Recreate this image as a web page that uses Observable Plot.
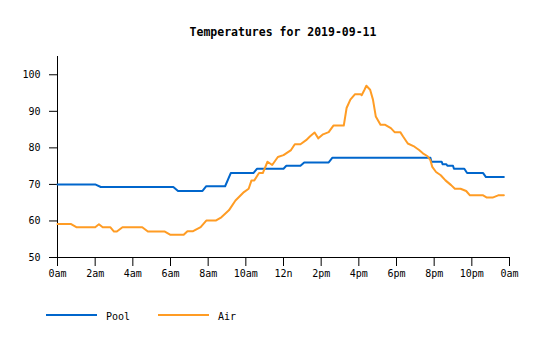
<!DOCTYPE html>
<html>
<head>
<meta charset="utf-8">
<script src="https://cdn.jsdelivr.net/npm/d3@7"></script>
<script src="https://cdn.jsdelivr.net/npm/@observablehq/plot@0.6"></script>
<style>
  html, body { margin: 0; padding: 0; background: #fff; }
  #wrap { position: relative; width: 540px; height: 340px; font-family: "DejaVu Sans Mono", monospace; }
  #title { position: absolute; left: 57px; width: 452px; top: 25px; text-align: center; font-weight: bold; font-size: 11.5px; line-height: 14px; color: #000; }
  #chart { position: absolute; left: 0; top: 0; }
  #legend { position: absolute; left: 0; top: 305px; }
</style>
</head>
<body>
<div id="wrap">
  <div id="chart"></div>
  <div id="title">Temperatures for 2019-09-11</div>
  <div id="legend"></div>
</div>
<script>
const titleText = "Temperatures for 2019-09-11";
const seriesNames = ["Pool", "Air"];
const seriesColors = ["#0066cc", "#ff9c24"];

const xTicks = [0, 2, 4, 6, 8, 10, 12, 14, 16, 18, 20, 22, 24];
const xTickLabels = ["0am", "2am", "4am", "6am", "8am", "10am", "12n", "2pm", "4pm", "6pm", "8pm", "10pm", "0am"];
const yTicks = [50, 60, 70, 80, 90, 100];

// hours of day, temperatures (°F)
const poolHours = [0, 2.0, 2.3, 6.15, 6.4, 7.7, 7.9, 8.9, 9.2, 10.4, 10.6, 12.0, 12.15, 12.9, 13.1, 14.4, 14.6, 19.8, 19.85, 20.4, 20.45, 20.65, 20.7, 21.0, 21.05, 21.6, 21.75, 22.6, 22.75, 23.7];
const poolTemps = [70, 70, 69.3, 69.3, 68.2, 68.2, 69.5, 69.5, 73.1, 73.1, 74.3, 74.3, 75.1, 75.1, 76.0, 76.0, 77.3, 77.3, 76.2, 76.2, 75.5, 75.5, 75.1, 75.1, 74.3, 74.3, 73.1, 73.1, 72.0, 72.0];

const airHours = [0, 0.7, 1.0, 2.0, 2.2, 2.4, 2.8, 3.0, 3.15, 3.45, 4.5, 4.8, 5.7, 6.0, 6.7, 6.9, 7.2, 7.6, 7.9, 8.4, 8.7, 9.1, 9.45, 9.9, 10.15, 10.3, 10.45, 10.7, 10.9, 11.15, 11.4, 11.7, 12.0, 12.4, 12.6, 12.9, 13.2, 13.4, 13.65, 13.85, 14.1, 14.4, 14.65, 15.2, 15.35, 15.55, 15.8, 16.1, 16.15, 16.3, 16.4, 16.6, 16.75, 16.9, 17.15, 17.4, 17.7, 17.9, 18.2, 18.35, 18.6, 18.9, 19.2, 19.4, 19.65, 19.8, 19.9, 20.1, 20.35, 20.6, 20.9, 21.1, 21.4, 21.7, 21.9, 22.6, 22.8, 23.1, 23.4, 23.7];
const airTemps = [59.2, 59.2, 58.3, 58.3, 59.1, 58.3, 58.3, 57.1, 57.1, 58.3, 58.3, 57.1, 57.1, 56.2, 56.2, 57.2, 57.2, 58.3, 60.1, 60.1, 61.0, 62.9, 65.6, 67.9, 68.8, 71.1, 71.1, 73.1, 73.1, 76.2, 75.3, 77.5, 78.0, 79.4, 81.0, 81.0, 82.1, 83.1, 84.2, 82.6, 83.7, 84.3, 86.1, 86.1, 90.9, 93.2, 94.7, 94.7, 94.4, 95.9, 97.0, 95.9, 93.2, 88.6, 86.3, 86.3, 85.4, 84.3, 84.3, 83.1, 81.2, 80.5, 79.4, 78.5, 77.7, 76.6, 74.8, 73.4, 72.5, 71.1, 69.8, 68.8, 68.8, 68.2, 67.0, 67.0, 66.4, 66.4, 67.0, 67.0];

const rows = [
  ...poolHours.map((h, i) => ({hour: h, temp: poolTemps[i], series: seriesNames[0]})),
  ...airHours.map((h, i) => ({hour: h, temp: airTemps[i], series: seriesNames[1]}))
];

document.getElementById("title").textContent = titleText;

const chart = Plot.plot({
  width: 540,
  height: 290,
  marginTop: 56,
  marginBottom: 33,
  marginLeft: 57,
  marginRight: 31,
  style: {fontFamily: "'DejaVu Sans Mono', monospace", fontSize: "10px", background: "#fff", color: "#000"},
  x: {domain: [0, 24]},
  y: {domain: [50, 105]},
  color: {domain: seriesNames, range: seriesColors},
  marks: [
    Plot.axisX({ticks: xTicks, tickFormat: (d) => xTickLabels[xTicks.indexOf(d)], tickSize: 9, tickPadding: 3, label: null}),
    Plot.axisY({ticks: yTicks, tickSize: 8, tickPadding: 9, label: null}),
    Plot.ruleX([0], {stroke: "#000"}),
    Plot.ruleY([50], {stroke: "#000"}),
    Plot.line(rows, {x: "hour", y: "temp", z: "series", stroke: "series", strokeWidth: 2, curve: "linear"})
  ]
});
document.getElementById("chart").appendChild(chart);

// legend
const lg = d3.select("#legend").append("svg").attr("width", 300).attr("height", 24);
const legendX = [46, 158];
seriesNames.forEach((name, i) => {
  const g = lg.append("g").attr("transform", `translate(${legendX[i]},0)`);
  g.append("line").attr("x1", 0).attr("x2", 51).attr("y1", 10).attr("y2", 10)
    .attr("stroke", seriesColors[i]).attr("stroke-width", 2);
  g.append("text").attr("x", 60).attr("y", 12).attr("dominant-baseline", "middle")
    .style("font-family", "'DejaVu Sans Mono', monospace").style("font-size", "10px").attr("fill", "#000").text(name);
});
</script>
</body>
</html>
